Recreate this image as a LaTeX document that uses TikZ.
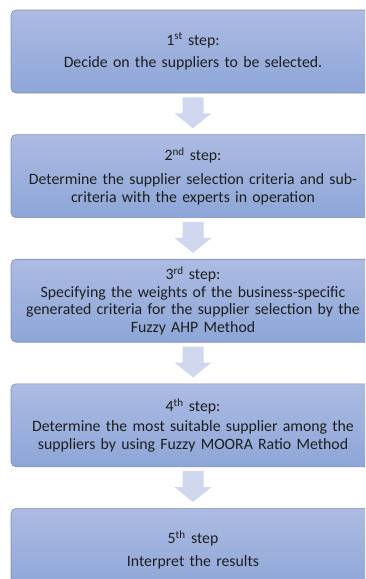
\documentclass[tikz,border=0pt]{standalone}
\usepackage{fontspec}
\setmainfont{Carlito}
\usetikzlibrary{positioning,calc}
\definecolor{boxtop}{RGB}{172,187,226}
\definecolor{boxbot}{RGB}{141,166,216}
\definecolor{boxline}{RGB}{128,141,172}
\definecolor{arrowfill}{RGB}{206,215,238}
\definecolor{steptext}{RGB}{30,30,30}

\begin{document}
\begin{tikzpicture}[x=1pt,y=1pt,
  stepbox/.style={draw=boxline,line width=0.6pt,rounded corners=5pt,
    top color=boxtop,bottom color=boxbot,minimum width=364pt,minimum height=83pt,
    text width=358pt,align=center,inner sep=0pt,text=steptext,
    font=\fontsize{15.8}{17.5}\selectfont},
  blockarrow/.style={fill=arrowfill,draw=none}]
\useasboundingbox (0,0) rectangle (365,-579);
\clip (0,0) rectangle (365,-579);
\node[stepbox] (s1) at (193,-51.5) {1\textsuperscript{st} step:\\[5pt]Decide on the suppliers to be selected.};
\node[stepbox,below=41pt of s1] (s2) {2\textsuperscript{nd} step:\\[7pt]Determine the supplier selection criteria and sub-\\criteria with the experts in operation};
\node[stepbox,below=41pt of s2] (s3) {3\textsuperscript{rd} step:\\[0.5pt]Specifying the weights of the business-specific\\generated criteria for the supplier selection by the\\Fuzzy AHP Method};
\node[stepbox,below=41pt of s3] (s4) {4\textsuperscript{th} step:\\[3pt]Determine the most suitable supplier among the\\suppliers by using Fuzzy MOORA Ratio Method};
\node[stepbox,below=41pt of s4] (s5) {5\textsuperscript{th} step\\[5pt]Interpret the results};
\foreach \a/\b in {s1/s2,s2/s3,s3/s4,s4/s5}
  \fill[blockarrow] ($(\a.south)+(-10.5,-4)$) -- ($(\a.south)+(10.5,-4)$)
    -- ($(\a.south)+(10.5,-20)$) -- ($(\a.south)+(18.5,-20)$) -- ($(\b.north)+(0,6)$)
    -- ($(\a.south)+(-18.5,-20)$) -- ($(\a.south)+(-10.5,-20)$) -- cycle;
\end{tikzpicture}
\end{document}
